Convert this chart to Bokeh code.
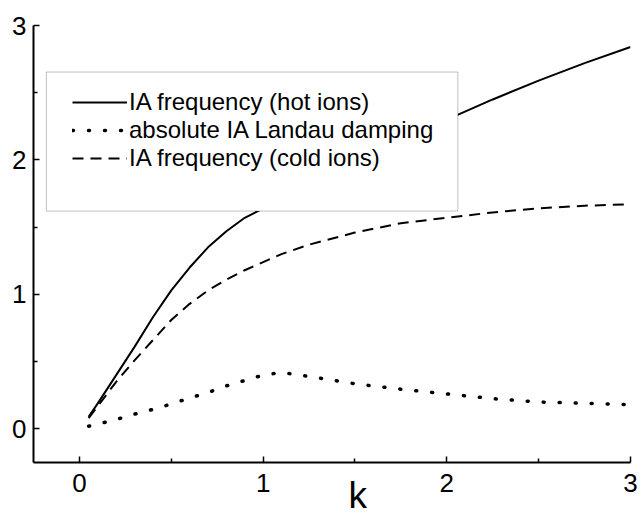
from bokeh.plotting import figure
from bokeh.models import (Range1d, FixedTicker, BoxAnnotation, Legend, LegendItem)
from bokeh.embed import file_html
from bokeh.resources import INLINE

# ---- data ----
k = [0.05, 0.1, 0.2, 0.3, 0.4, 0.5, 0.6, 0.7, 0.8, 0.9, 1.0, 1.1, 1.25, 1.5,
     1.75, 2.0, 2.25, 2.5, 2.75, 3.0]
hot_freq = [0.09, 0.19, 0.40, 0.61, 0.83, 1.03, 1.20, 1.35, 1.47, 1.57, 1.64,
            1.71, 1.81, 1.97, 2.12, 2.30, 2.45, 2.59, 2.72, 2.84]
damping = [0.02, 0.035, 0.07, 0.11, 0.145, 0.185, 0.23, 0.27, 0.32, 0.36, 0.40,
           0.42, 0.39, 0.335, 0.295, 0.26, 0.225, 0.20, 0.19, 0.18]
cold_freq = [0.08, 0.17, 0.35, 0.51, 0.66, 0.81, 0.93, 1.03, 1.11, 1.18, 1.24,
             1.30, 1.37, 1.46, 1.53, 1.57, 1.61, 1.64, 1.66, 1.67]
labels = ["IA frequency (hot ions)", "absolute IA Landau damping",
          "IA frequency (cold ions)"]
major_ticks = [0, 1, 2, 3]
minor_ticks = [0.5, 1.5, 2.5]
x_label = "k"

FONT = "Liberation Sans"

p = figure(width=641, height=523, output_backend="svg", toolbar_location=None,
           x_range=Range1d(-0.25, 3.0), y_range=Range1d(-0.25, 3.0),
           min_border_left=33, min_border_right=11, min_border_top=25,
           min_border_bottom=61)
p.grid.visible = False
p.outline_line_color = None
p.background_fill_color = "white"

for ax in (p.xaxis[0], p.yaxis[0]):
    ax.ticker = FixedTicker(ticks=major_ticks, minor_ticks=minor_ticks)
    ax.axis_line_width = 2
    ax.axis_line_color = "black"
    ax.major_tick_in = 6
    ax.major_tick_out = 0
    ax.minor_tick_in = 4
    ax.minor_tick_out = 0
    ax.major_tick_line_width = 1.5
    ax.minor_tick_line_width = 1.5
    ax.major_tick_line_color = "black"
    ax.minor_tick_line_color = "black"
    ax.major_label_text_font = FONT
    ax.major_label_text_font_size = "26px"
    ax.major_label_text_color = "black"
p.xaxis[0].major_label_standoff = 11
p.yaxis[0].major_label_standoff = 7

# axis title: shifted right of centre as in the original (non-breaking spaces)
xa = p.xaxis[0]
xa.axis_label = "\u00a0" * 5 + x_label
xa.axis_label_text_font = FONT
xa.axis_label_text_font_size = "37px"
xa.axis_label_text_font_style = "normal"
xa.axis_label_text_color = "black"
xa.axis_label_standoff = -20

r_hot = p.line(k, hot_freq, line_color="black", line_width=2)
r_damp = p.line(k, damping, line_color="black", line_width=3.5,
                line_dash="1 15", line_cap="round")
r_cold = p.line(k, cold_freq, line_color="black", line_width=2,
                line_dash="11 7")

box = BoxAnnotation(left=-0.18, right=2.06, top=2.654, bottom=1.62,
                    fill_color="white", fill_alpha=1.0,
                    line_color="#333333", line_width=1)
p.add_layout(box)

legend = Legend(items=[LegendItem(label=labels[0], renderers=[r_hot]),
                       LegendItem(label=labels[1], renderers=[r_damp]),
                       LegendItem(label=labels[2], renderers=[r_cold])],
                location=(39, 290), padding=0, margin=0, spacing=0,
                glyph_width=55, glyph_height=20, label_standoff=2,
                label_text_font=FONT, label_text_font_size="24px",
                label_text_color="black",
                border_line_alpha=0, background_fill_alpha=0)
p.add_layout(legend, "center")

open("out.html", "w").write(file_html(p, INLINE))
